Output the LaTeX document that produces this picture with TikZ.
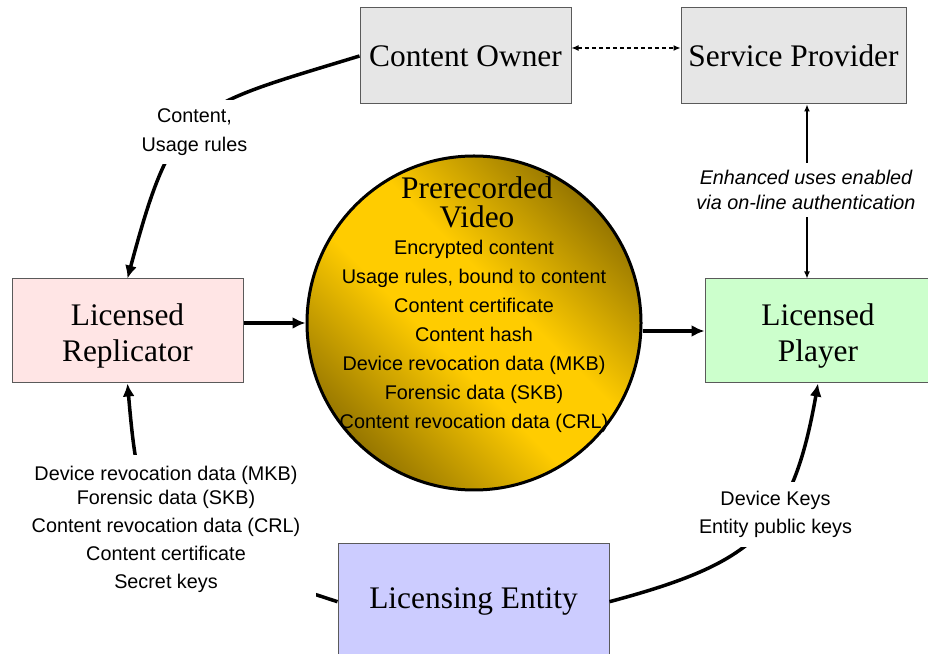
\documentclass[tikz,border=0pt]{standalone}
\usepackage{fontspec}
\setmainfont{Liberation Serif}
\newfontfamily\lsans{Liberation Sans}
\usetikzlibrary{arrows.meta}
\definecolor{boxgray}{RGB}{230,230,230}
\definecolor{repfill}{RGB}{255,229,229}
\definecolor{playfill}{RGB}{204,255,204}
\definecolor{entfill}{RGB}{204,204,255}
\definecolor{gold}{RGB}{255,204,0}
\definecolor{golddark}{RGB}{150,118,0}
\definecolor{edge}{RGB}{90,90,90}
\pgfdeclareverticalshading{discshade}{100bp}{color(0bp)=(golddark); color(25bp)=(golddark); color(44bp)=(gold); color(56bp)=(gold); color(75bp)=(golddark); color(100bp)=(golddark)}
\newcommand{\lowered}[1]{\raisebox{-5pt}[\height][\depth]{\begin{tabular}{@{}c@{}}#1\end{tabular}}}
\begin{document}
\begin{tikzpicture}[x=1pt,y=1pt,
  box/.style={draw=edge, line width=1pt, inner sep=0pt, align=center, font=\fontsize{31.4}{36.5}\selectfont},
  lbl/.style={fill=white, align=center, font=\lsans\fontsize{19.8}{28.3}\selectfont},
  flow/.style={line width=3.5pt, -{Latex[length=13pt,width=12pt]}},
  thinarr/.style={line width=1.2pt, {Latex[length=7pt,width=6pt]}-{Latex[length=7pt,width=6pt]}},
]
\useasboundingbox (0,0) rectangle (928,653);

% boxes
\node[box, fill=boxgray, minimum width=211pt, minimum height=96pt] (co) at (465.5,597) {Content Owner};
\node[box, fill=boxgray, minimum width=225pt, minimum height=96pt] (sp) at (793.5,597) {Service Provider};
\node[box, fill=repfill, minimum width=231pt, minimum height=104pt] (lr) at (127.5,322) {\lowered{Licensed\\Replicator}};
\node[box, fill=playfill, minimum width=226pt, minimum height=104pt] (lp) at (818,322) {\lowered{Licensed\\Player}};
\node[box, fill=entfill, minimum width=271pt, minimum height=117pt] (le) at (473.5,51.3) {Licensing Entity};

% video disc
\node[circle, draw, line width=3pt, minimum size=334pt, inner sep=0pt,
      shading=discshade, shading angle=-45] (vid) at (474,330) {};
\node[align=center, font=\fontsize{31.4}{29}\selectfont] (vtitle) at (477,450.2) {Prerecorded\\Video};
\node[align=center, font=\lsans\fontsize{19.8}{29}\selectfont] (vlist) at (474,317)
  {Encrypted content\\Usage rules, bound to content\\Content certificate\\Content hash\\Device revocation data (MKB)\\Forensic data (SKB)\\Content revocation data (CRL)};

% connectors
\coordinate (ax) at (807,0);
\draw[flow] (co.west) .. controls +(197:180) and +(75:180) .. (lr.north);
\draw[flow] (le.west) .. controls +(162:200) and +(-85:150) .. (lr.south);
\draw[flow] (le.east) .. controls +(15:150) and +(-100:150) .. (lp.south);
\draw[flow] (lr.east |- vid.west) -- (vid.west);
\draw[flow] (vid.east |- lp.west) -- (lp.west);
\draw[thinarr, dash pattern=on 4pt off 3pt] ([yshift=8pt]co.east) -- ([yshift=8pt]sp.west);
\draw[thinarr] (sp.south -| ax) -- (lp.north -| ax);

% labels
\node[lbl, inner xsep=8pt, inner ysep=9pt] (cu) at (194.5,521) {Content,\\Usage rules};
\node[lbl, font=\lsans\itshape\fontsize{19.8}{24.3}\selectfont, inner xsep=4pt, inner ysep=8pt] (enh) at (806,463)
  {Enhanced uses enabled\\via on-line authentication};
\node[lbl, font=\lsans\fontsize{19.8}{24.7}\selectfont, minimum width=300pt, inner ysep=11pt] (kl) at (166,123.5)
  {Device revocation data (MKB)\\Forensic data (SKB)\\[3.3pt]Content revocation data (CRL)\\[3.3pt]Content certificate\\[3.3pt]Secret keys};
\node[lbl, inner xsep=8pt, inner ysep=9.5pt] (dk) at (775.5,138.5) {Device Keys\\Entity public keys};
\end{tikzpicture}
\end{document}
